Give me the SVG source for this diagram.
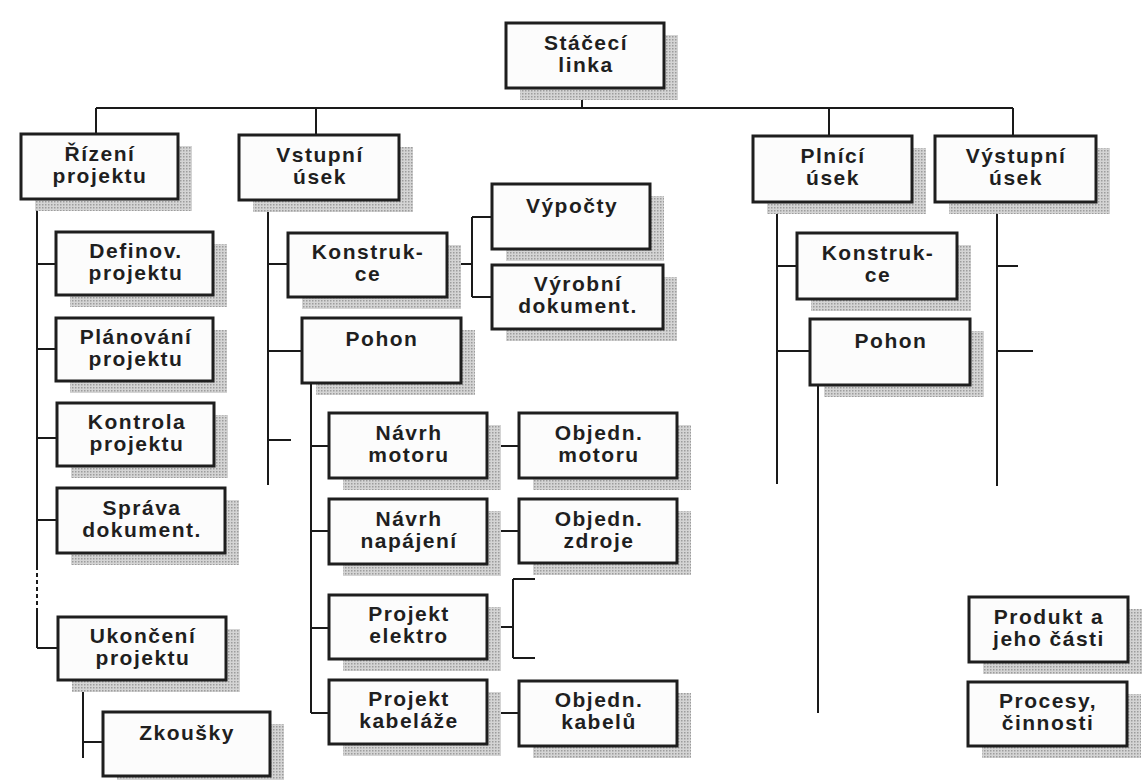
<svg xmlns="http://www.w3.org/2000/svg" width="1144" height="780" viewBox="0 0 1144 780">
  <defs>
    <!-- halftone fill used for the drop shadows -->
    <pattern id="halftone" width="3" height="3" patternUnits="userSpaceOnUse">
      <rect width="3" height="3" fill="#d4d4d4"/>
      <rect width="1.5" height="1.5" fill="#9c9c9c"/>
    </pattern>
    <style>
      .shadow { fill: url(#halftone); stroke: none; }
      .box { fill: #fcfcfc; stroke: #1e1e1e; stroke-width: 3; }
      .lbl { font-family: "Liberation Sans", Arial, sans-serif; font-weight: bold; font-size: 21px; letter-spacing: 1.5px; fill: #1f1f1f; text-anchor: middle; }
      .wire { fill: none; stroke: #1a1a1a; stroke-width: 2; }
      .dash { fill: none; stroke: #1a1a1a; stroke-width: 2; stroke-dasharray: 4 3; }
    </style>
  </defs>

  <rect width="1144" height="780" fill="#ffffff"/>

  <!-- connectors -->
  <g id="connectors">
    <!-- root to first level -->
    <path class="wire" d="M582 88 V108 M96 108 H1013 M96 108 V134 M316 108 V135 M829 108 V136 M1013 108 V136"/>
    <!-- project management column -->
    <path class="wire" d="M37 199 V566 M37 610 V648"/>
    <path class="dash" d="M37 566 V610"/>
    <path class="wire" d="M37 264 H56 M37 349 H56 M37 438 H57 M37 520 H57 M37 648 H58"/>
    <path class="wire" d="M83 680 V758 M83 742 H103"/>
    <!-- input section -->
    <path class="wire" d="M268 200 V485 M268 264 H288 M268 351 H302 M268 440 H291"/>
    <path class="wire" d="M447 264 H472 M472 217 V297 M472 217 H492 M472 297 H492"/>
    <path class="wire" d="M311 383 V713 M311 446 H329 M311 531 H329 M311 628 H329 M311 713 H329"/>
    <path class="wire" d="M487 446 H519 M487 531 H519 M487 713 H519"/>
    <path class="wire" d="M487 627 H513 M513 579 V658 M513 579 H535 M513 658 H535"/>
    <!-- filling section -->
    <path class="wire" d="M777 202 V484 M777 266 H797 M777 351 H810 M818 385 V713"/>
    <!-- output section -->
    <path class="wire" d="M997 202 V486 M997 266 H1018 M997 351 H1033"/>
  </g>

  <!-- root -->
  <g id="stacecí-linka">
    <rect class="shadow" x="520" y="35" width="158" height="65"/>
    <rect class="box" x="506" y="23" width="158" height="65"/>
    <text class="lbl" x="586" y="50">Stáčecí</text>
    <text class="lbl" x="586" y="72">linka</text>
  </g>

  <!-- first level -->
  <g id="rizeni-projektu">
    <rect class="shadow" x="35" y="146" width="157" height="65"/>
    <rect class="box" x="21" y="134" width="157" height="65"/>
    <text class="lbl" x="100" y="161">Řízení</text>
    <text class="lbl" x="100" y="183">projektu</text>
  </g>
  <g id="vstupni-usek">
    <rect class="shadow" x="253" y="147" width="160" height="65"/>
    <rect class="box" x="239" y="135" width="160" height="65"/>
    <text class="lbl" x="320" y="162">Vstupní</text>
    <text class="lbl" x="320" y="184">úsek</text>
  </g>
  <g id="plnici-usek">
    <rect class="shadow" x="767" y="148" width="159" height="66"/>
    <rect class="box" x="753" y="136" width="159" height="66"/>
    <text class="lbl" x="833" y="163">Plnící</text>
    <text class="lbl" x="833" y="185">úsek</text>
  </g>
  <g id="vystupni-usek">
    <rect class="shadow" x="949" y="148" width="161" height="66"/>
    <rect class="box" x="935" y="136" width="161" height="66"/>
    <text class="lbl" x="1016" y="163">Výstupní</text>
    <text class="lbl" x="1016" y="185">úsek</text>
  </g>

  <!-- project management tasks -->
  <g id="definov-projektu">
    <rect class="shadow" x="70" y="244" width="157" height="63"/>
    <rect class="box" x="56" y="232" width="157" height="63"/>
    <text class="lbl" x="136" y="258">Definov.</text>
    <text class="lbl" x="136" y="280">projektu</text>
  </g>
  <g id="planovani-projektu">
    <rect class="shadow" x="70" y="330" width="157" height="63"/>
    <rect class="box" x="56" y="318" width="157" height="63"/>
    <text class="lbl" x="136" y="344">Plánování</text>
    <text class="lbl" x="136" y="366">projektu</text>
  </g>
  <g id="kontrola-projektu">
    <rect class="shadow" x="71" y="415" width="157" height="63"/>
    <rect class="box" x="57" y="403" width="157" height="63"/>
    <text class="lbl" x="137" y="429">Kontrola</text>
    <text class="lbl" x="137" y="451">projektu</text>
  </g>
  <g id="sprava-dokument">
    <rect class="shadow" x="71" y="500" width="168" height="65"/>
    <rect class="box" x="57" y="488" width="168" height="65"/>
    <text class="lbl" x="142" y="515">Správa</text>
    <text class="lbl" x="142" y="537">dokument.</text>
  </g>
  <g id="ukonceni-projektu">
    <rect class="shadow" x="72" y="629" width="168" height="63"/>
    <rect class="box" x="58" y="617" width="168" height="63"/>
    <text class="lbl" x="143" y="643">Ukončení</text>
    <text class="lbl" x="143" y="665">projektu</text>
  </g>
  <g id="zkousky">
    <rect class="shadow" x="117" y="724" width="167" height="64"/>
    <rect class="box" x="103" y="712" width="167" height="64"/>
    <text class="lbl" x="187" y="740">Zkoušky</text>
  </g>

  <!-- input section parts -->
  <g id="konstrukce-vstup">
    <rect class="shadow" x="302" y="245" width="159" height="64"/>
    <rect class="box" x="288" y="233" width="159" height="64"/>
    <text class="lbl" x="368" y="259">Konstruk-</text>
    <text class="lbl" x="368" y="281">ce</text>
  </g>
  <g id="vypocty">
    <rect class="shadow" x="506" y="196" width="158" height="65"/>
    <rect class="box" x="492" y="184" width="158" height="65"/>
    <text class="lbl" x="572" y="213">Výpočty</text>
  </g>
  <g id="vyrobni-dokument">
    <rect class="shadow" x="506" y="277" width="171" height="64"/>
    <rect class="box" x="492" y="265" width="171" height="64"/>
    <text class="lbl" x="578" y="291">Výrobní</text>
    <text class="lbl" x="578" y="313">dokument.</text>
  </g>
  <g id="pohon-vstup">
    <rect class="shadow" x="316" y="330" width="159" height="65"/>
    <rect class="box" x="302" y="318" width="159" height="65"/>
    <text class="lbl" x="382" y="346">Pohon</text>
  </g>
  <g id="navrh-motoru">
    <rect class="shadow" x="343" y="425" width="158" height="65"/>
    <rect class="box" x="329" y="413" width="158" height="65"/>
    <text class="lbl" x="409" y="440">Návrh</text>
    <text class="lbl" x="409" y="462">motoru</text>
  </g>
  <g id="objedn-motoru">
    <rect class="shadow" x="533" y="425" width="158" height="65"/>
    <rect class="box" x="519" y="413" width="158" height="65"/>
    <text class="lbl" x="599" y="440">Objedn.</text>
    <text class="lbl" x="599" y="462">motoru</text>
  </g>
  <g id="navrh-napajeni">
    <rect class="shadow" x="343" y="511" width="158" height="65"/>
    <rect class="box" x="329" y="499" width="158" height="65"/>
    <text class="lbl" x="409" y="526">Návrh</text>
    <text class="lbl" x="409" y="548">napájení</text>
  </g>
  <g id="objedn-zdroje">
    <rect class="shadow" x="533" y="511" width="158" height="64"/>
    <rect class="box" x="519" y="499" width="158" height="64"/>
    <text class="lbl" x="599" y="526">Objedn.</text>
    <text class="lbl" x="599" y="548">zdroje</text>
  </g>
  <g id="projekt-elektro">
    <rect class="shadow" x="343" y="607" width="158" height="64"/>
    <rect class="box" x="329" y="595" width="158" height="64"/>
    <text class="lbl" x="409" y="621">Projekt</text>
    <text class="lbl" x="409" y="643">elektro</text>
  </g>
  <g id="projekt-kabelaze">
    <rect class="shadow" x="343" y="692" width="158" height="64"/>
    <rect class="box" x="329" y="680" width="158" height="64"/>
    <text class="lbl" x="409" y="706">Projekt</text>
    <text class="lbl" x="409" y="728">kabeláže</text>
  </g>
  <g id="objedn-kabelu">
    <rect class="shadow" x="533" y="693" width="158" height="65"/>
    <rect class="box" x="519" y="681" width="158" height="65"/>
    <text class="lbl" x="599" y="707">Objedn.</text>
    <text class="lbl" x="599" y="729">kabelů</text>
  </g>

  <!-- filling section parts -->
  <g id="konstrukce-plneni">
    <rect class="shadow" x="811" y="245" width="160" height="66"/>
    <rect class="box" x="797" y="233" width="160" height="66"/>
    <text class="lbl" x="878" y="260">Konstruk-</text>
    <text class="lbl" x="878" y="282">ce</text>
  </g>
  <g id="pohon-plneni">
    <rect class="shadow" x="824" y="331" width="160" height="66"/>
    <rect class="box" x="810" y="319" width="160" height="66"/>
    <text class="lbl" x="891" y="348">Pohon</text>
  </g>

  <!-- key -->
  <g id="produkt-a-jeho-casti">
    <rect class="shadow" x="983" y="609" width="159" height="65"/>
    <rect class="box" x="969" y="597" width="159" height="65"/>
    <text class="lbl" x="1049" y="624">Produkt a</text>
    <text class="lbl" x="1049" y="646">jeho části</text>
  </g>
  <g id="procesy-cinnosti">
    <rect class="shadow" x="982" y="694" width="159" height="64"/>
    <rect class="box" x="968" y="682" width="159" height="64"/>
    <text class="lbl" x="1048" y="708">Procesy,</text>
    <text class="lbl" x="1048" y="730">činnosti</text>
  </g>
</svg>
